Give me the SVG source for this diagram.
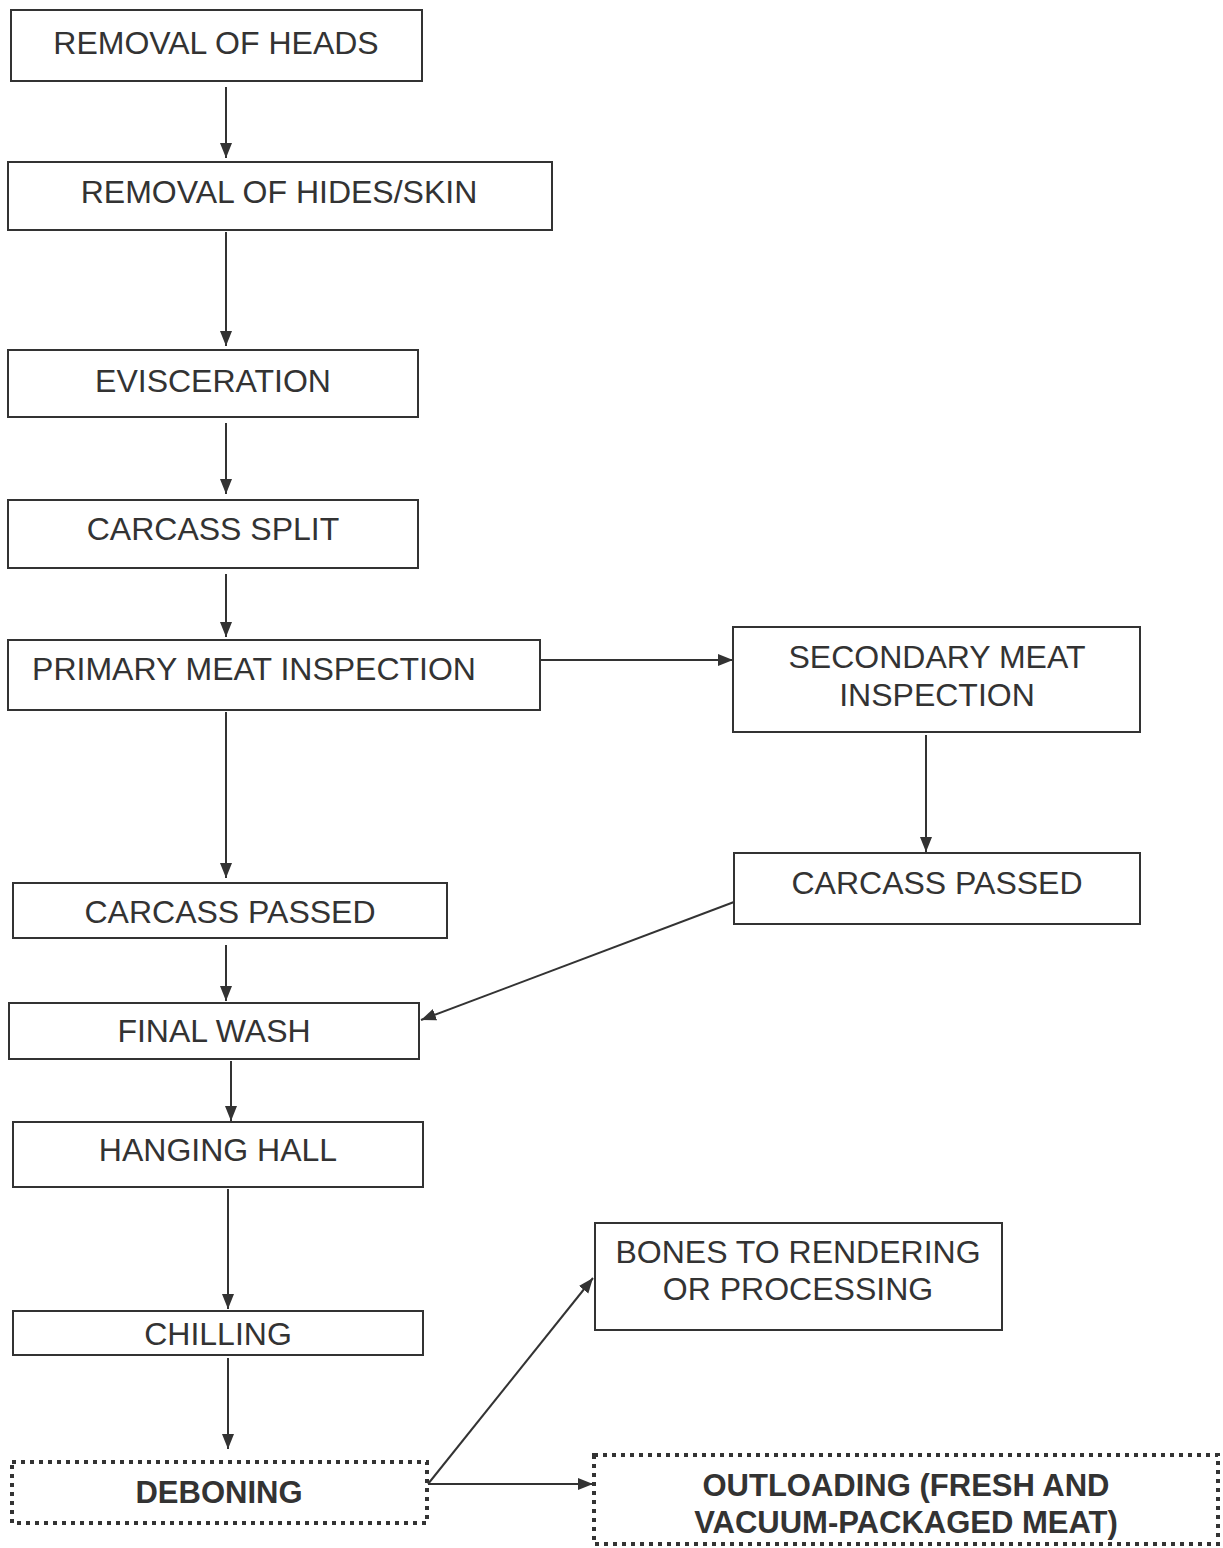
<svg xmlns="http://www.w3.org/2000/svg" width="1223" height="1548" viewBox="0 0 1223 1548">
<defs>
<marker id="ah" markerWidth="16" markerHeight="14" refX="15" refY="7" orient="auto" markerUnits="userSpaceOnUse">
<path d="M0,1 L15,7 L0,13 Z" fill="#333"/>
</marker>
<style>
.b{fill:#fff;stroke:#333;stroke-width:2}
.d{fill:#fff;stroke:#333;stroke-width:4;stroke-dasharray:4 5}
.t{font-family:"Liberation Sans",Arial,sans-serif;font-size:32px;fill:#333;text-anchor:middle}
.tb{font-family:"Liberation Sans",Arial,sans-serif;font-size:31px;font-weight:bold;fill:#333;text-anchor:middle}
.c{stroke:#333;stroke-width:2;fill:none;marker-end:url(#ah)}
</style>
</defs>
<rect width="1223" height="1548" fill="#fff"/>
<g id="connectors">
<line class="c" x1="226" y1="87" x2="226" y2="158"/>
<line class="c" x1="226" y1="232" x2="226" y2="346"/>
<line class="c" x1="226" y1="423" x2="226" y2="494"/>
<line class="c" x1="226" y1="574" x2="226" y2="637"/>
<line class="c" x1="540" y1="660" x2="733" y2="660"/>
<line class="c" x1="926" y1="735" x2="926" y2="852"/>
<line class="c" x1="226" y1="712" x2="226" y2="878"/>
<line class="c" x1="226" y1="945" x2="226" y2="1001"/>
<line class="c" x1="734" y1="902" x2="421" y2="1020"/>
<line class="c" x1="231" y1="1061" x2="231" y2="1121"/>
<line class="c" x1="228" y1="1189" x2="228" y2="1309"/>
<line class="c" x1="228" y1="1358" x2="228" y2="1449"/>
<line class="c" x1="428" y1="1484" x2="593" y2="1484"/>
<line class="c" x1="428" y1="1484" x2="593" y2="1278"/>
</g>
<g id="n1"><rect class="b" x="11" y="10" width="411" height="71"/><text class="t" x="216" y="54">REMOVAL OF HEADS</text></g>
<g id="n2"><rect class="b" x="8" y="162" width="544" height="68"/><text class="t" x="279" y="203">REMOVAL OF HIDES/SKIN</text></g>
<g id="n3"><rect class="b" x="8" y="350" width="410" height="67"/><text class="t" x="213" y="392">EVISCERATION</text></g>
<g id="n4"><rect class="b" x="8" y="500" width="410" height="68"/><text class="t" x="213" y="540">CARCASS SPLIT</text></g>
<g id="n5"><rect class="b" x="8" y="640" width="532" height="70"/><text class="t" x="254" y="680">PRIMARY MEAT INSPECTION</text></g>
<g id="n6"><rect class="b" x="733" y="627" width="407" height="105"/><text class="t" x="937" y="668">SECONDARY MEAT</text><text class="t" x="937" y="706">INSPECTION</text></g>
<g id="n7"><rect class="b" x="734" y="853" width="406" height="71"/><text class="t" x="937" y="894">CARCASS PASSED</text></g>
<g id="n8"><rect class="b" x="13" y="883" width="434" height="55"/><text class="t" x="230" y="923">CARCASS PASSED</text></g>
<g id="n9"><rect class="b" x="9" y="1003" width="410" height="56"/><text class="t" x="214" y="1042">FINAL WASH</text></g>
<g id="n10"><rect class="b" x="13" y="1122" width="410" height="65"/><text class="t" x="218" y="1161">HANGING HALL</text></g>
<g id="n11"><rect class="b" x="13" y="1311" width="410" height="44"/><text class="t" x="218" y="1345">CHILLING</text></g>
<g id="n12"><rect class="d" x="12" y="1462" width="415" height="61"/><text class="tb" x="219" y="1503">DEBONING</text></g>
<g id="n13"><rect class="b" x="595" y="1223" width="407" height="107"/><text class="t" x="798" y="1263">BONES TO RENDERING</text><text class="t" x="798" y="1300">OR PROCESSING</text></g>
<g id="n14"><rect class="d" x="594" y="1455" width="624" height="89"/><text class="tb" x="906" y="1496">OUTLOADING (FRESH AND</text><text class="tb" x="906" y="1533">VACUUM-PACKAGED MEAT)</text></g>
</svg>
